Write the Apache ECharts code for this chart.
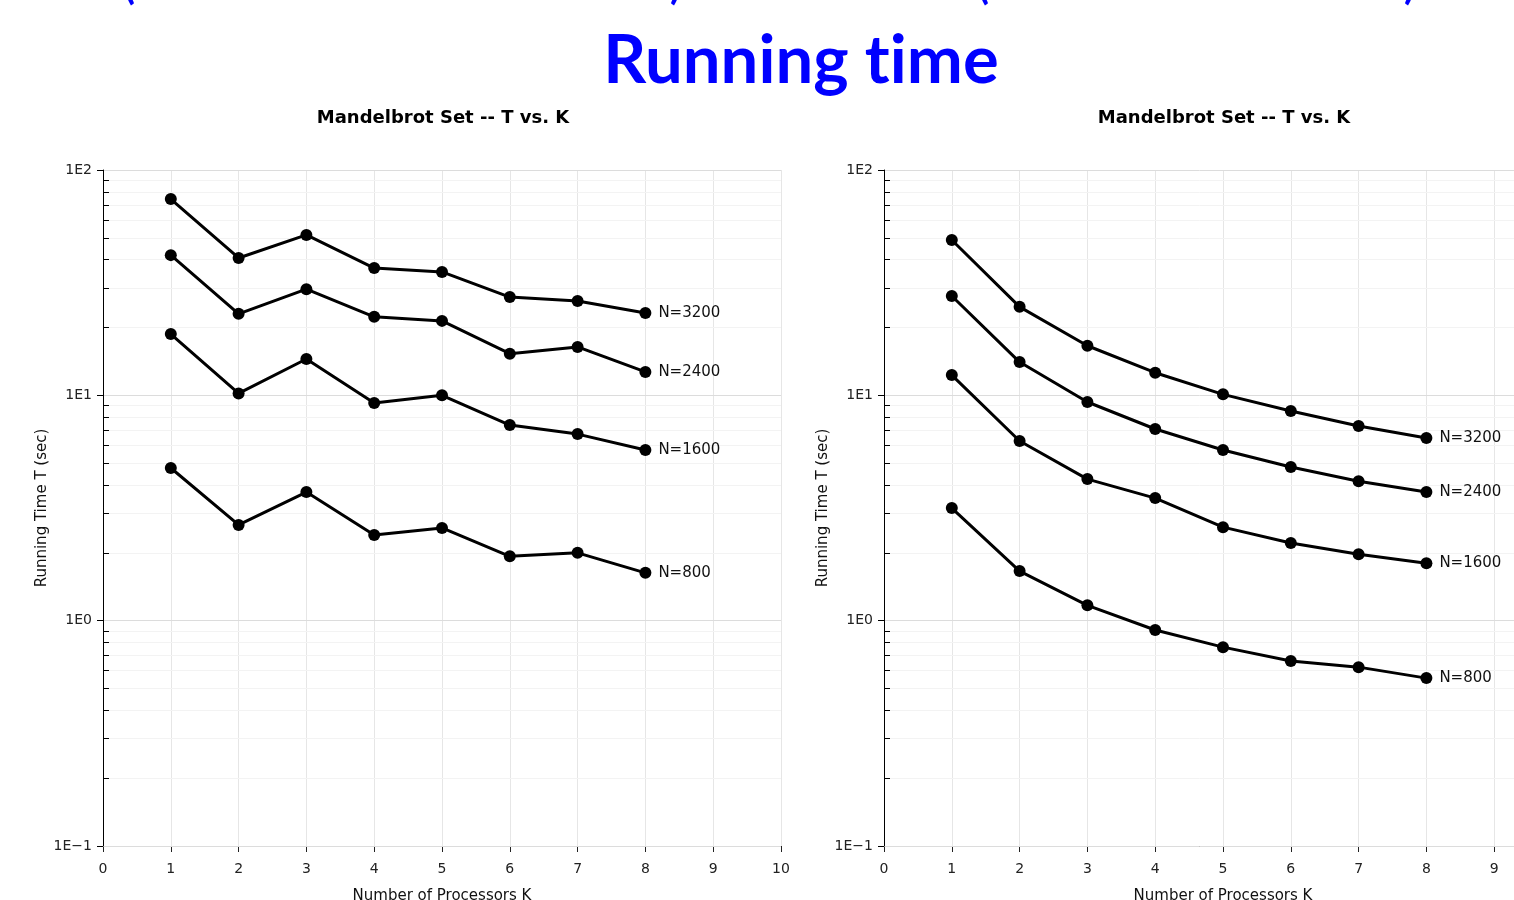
<!DOCTYPE html>
<html><head><meta charset="utf-8">
<script src="https://cdn.jsdelivr.net/npm/echarts@6/dist/echarts.min.js"></script>
<style>html,body{margin:0;padding:0;background:#fff}#c{width:1514px;height:900px}</style>
</head><body><div id="c"></div>
<script>
const processors = [1, 2, 3, 4, 5, 6, 7, 8];
const seriesNames = ['N=3200', 'N=2400', 'N=1600', 'N=800'];

// Left panel
const leftN3200 = [74.3, 40.7, 51.5, 36.7, 35.3, 27.3, 26.2, 23.2];
const leftN2400 = [41.9, 23.0, 29.6, 22.3, 21.4, 15.3, 16.4, 12.7];
const leftN1600 = [18.7, 10.2, 14.5, 9.24, 10.0, 7.38, 6.73, 5.72];
const leftN800  = [4.76, 2.66, 3.72, 2.40, 2.58, 1.93, 2.00, 1.63];

// Right panel
const rightN3200 = [48.9, 24.7, 16.6, 12.6, 10.1, 8.52, 7.31, 6.46];
const rightN2400 = [27.6, 14.05, 9.34, 7.09, 5.72, 4.81, 4.16, 3.72];
const rightN1600 = [12.3, 6.27, 4.25, 3.50, 2.60, 2.21, 1.97, 1.80];
const rightN800  = [3.16, 1.66, 1.17, 0.909, 0.763, 0.662, 0.622, 0.556];

const yMajorTicks = [0.1, 1, 10, 100];
const yMajorLabels = ['1E\u22121', '1E0', '1E1', '1E2'];
const yMinorTicks = [0.2, 0.3, 0.4, 0.5, 0.6, 0.7, 0.8, 0.9, 2, 3, 4, 5, 6, 7, 8, 9, 20, 30, 40, 50, 60, 70, 80, 90];

const panelTitle = 'Mandelbrot Set -- T vs. K';
const mainTitle = 'Running t\u200Cime';
const xName = 'Number of Processors K';
const yName = 'Running Time T (sec)';

const FONT = 'DejaVu Sans';
const chart = echarts.init(document.getElementById('c'), null, {renderer: 'canvas'});

const gridLeft = [103, 884];
const grids = gridLeft.map(l => ({left: l, top: 170, width: 678, height: 676, containLabel: false, outerBoundsMode: 'none'}));

const xAxes = [0, 1].map(i => ({
  type: 'value', gridIndex: i, min: 0, max: 10, interval: 1,
  name: xName, nameLocation: 'middle', nameGap: 43,
  nameTextStyle: {fontFamily: FONT, fontSize: 15, color: '#111'},
  axisLine: {show: true, onZero: false, lineStyle: {color: '#555', width: 1}},
  axisTick: {show: true, length: 6, lineStyle: {color: '#222'}},
  axisLabel: {fontFamily: FONT, fontSize: 14, color: '#222', margin: 16},
  splitLine: {show: true, lineStyle: {color: '#e6e6e6', width: 1}}
}));

const yAxes = [];
[0, 1].forEach(i => {
  yAxes.push({
    type: 'log', logBase: 10, gridIndex: i, min: 0.1, max: 100,
    name: yName, nameLocation: 'middle', nameGap: 44, nameRotate: 90,
    nameTextStyle: {fontFamily: FONT, fontSize: 15, color: '#111'},
    axisLine: {show: true, onZero: false, lineStyle: {color: '#000', width: 1}},
    axisTick: {show: true, length: 6, lineStyle: {color: '#000'}, customValues: yMajorTicks},
    axisLabel: {fontFamily: FONT, fontSize: 14, color: '#222', margin: 11, customValues: yMajorTicks,
      formatter: v => yMajorLabels[yMajorTicks.findIndex(t => Math.abs(t - v) / t < 1e-6)] || ''},
    splitLine: {show: true, lineStyle: {color: '#dcdcdc', width: 1}},
    z: 3
  });
});
[0, 1].forEach(i => {
  yAxes.push({
    type: 'log', logBase: 10, gridIndex: i, min: 0.1, max: 100,
    axisLine: {show: false},
    axisTick: {show: true, length: 6, lineStyle: {color: '#000'}, customValues: yMinorTicks},
    axisLabel: {show: false, customValues: yMinorTicks},
    splitLine: {show: true, lineStyle: {color: '#f3f3f3', width: 1}},
    z: 1
  });
});

function mk(name, vals, gi) {
  return {
    name: name, type: 'line', xAxisIndex: gi, yAxisIndex: gi,
    data: processors.map((k, j) => [k, vals[j]]),
    symbol: 'circle', symbolSize: 12,
    lineStyle: {color: '#000', width: 3},
    itemStyle: {color: '#000'},
    endLabel: {show: true, formatter: '{a}', distance: 13, fontFamily: FONT, fontSize: 15, color: '#111'},
    animation: false, z: 5
  };
}

const leftData = [leftN3200, leftN2400, leftN1600, leftN800];
const rightData = [rightN3200, rightN2400, rightN1600, rightN800];
const series = [];
seriesNames.forEach((n, j) => series.push(mk(n, leftData[j], 0)));
seriesNames.forEach((n, j) => series.push(mk(n, rightData[j], 1)));

const option = {
  backgroundColor: '#fff',
  animation: false,
  title: [
    {text: mainTitle, left: 796, top: 23, textAlign: 'center',
      textStyle: {fontFamily: 'Lato', fontWeight: 'bold', fontSize: 67, color: '#0000ff'}},
    {text: panelTitle, left: 438, top: 104, textAlign: 'center',
      textStyle: {fontFamily: FONT, fontWeight: 'bold', fontSize: 18, color: '#000'}},
    {text: panelTitle, left: 1219, top: 104, textAlign: 'center',
      textStyle: {fontFamily: FONT, fontWeight: 'bold', fontSize: 18, color: '#000'}}
  ],
  graphic: [
    {type: 'text', left: 124, top: -34, style: {text: '(', fontFamily: 'Lato', fontWeight: 'bold', fontSize: 40, fill: '#0000ff'}},
    {type: 'text', left: 670, top: -34, style: {text: ')', fontFamily: 'Lato', fontWeight: 'bold', fontSize: 40, fill: '#0000ff'}},
    {type: 'text', left: 978, top: -34, style: {text: '(', fontFamily: 'Lato', fontWeight: 'bold', fontSize: 40, fill: '#0000ff'}},
    {type: 'text', left: 1404, top: -34, style: {text: ')', fontFamily: 'Lato', fontWeight: 'bold', fontSize: 40, fill: '#0000ff'}}
  ],
  grid: grids,
  xAxis: xAxes,
  yAxis: yAxes,
  series: series
};
chart.setOption(option);
</script>
</body></html>
